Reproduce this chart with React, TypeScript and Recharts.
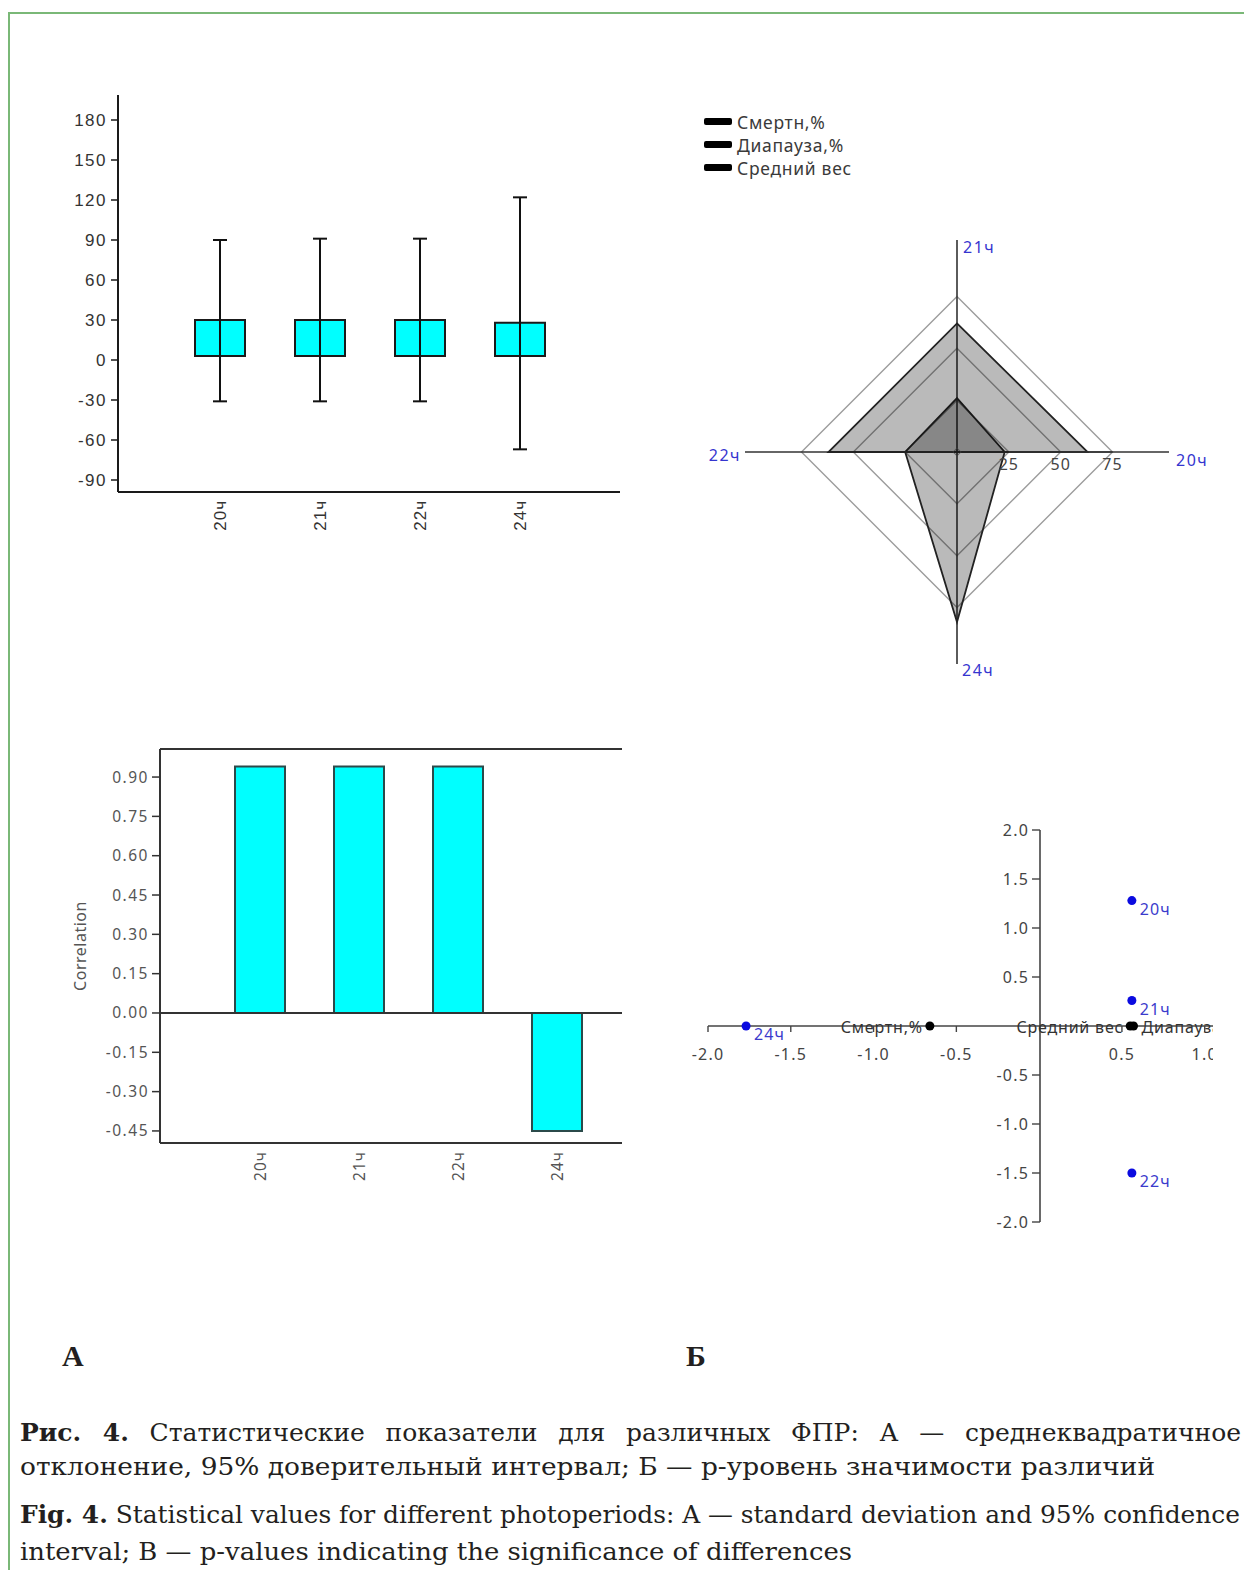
import React from 'react';
import {
  ComposedChart, BarChart, Bar, XAxis, YAxis, ReferenceLine,
  RadarChart, Radar, PolarGrid, PolarAngleAxis, PolarRadiusAxis, Legend,
  ScatterChart, Scatter,
} from 'recharts';

// ---------- data ----------
const periods = ['20ч', '21ч', '22ч', '24ч'];

// Panel A (top): box = standard deviation range, whiskers = 95% CI
const sdLow = [3, 3, 3, 3];
const sdHigh = [30, 30, 30, 28];
const ciLow = [-31, -31, -31, -67];
const ciHigh = [90, 91, 91, 122];
const sdTicks = [-90, -60, -30, 0, 30, 60, 90, 120, 150, 180];
const sdDomain = [-99, 198.75];

// Panel A (bottom): correlation
const correlation = [0.94, 0.94, 0.94, -0.45];
const corrTicks = [-0.45, -0.3, -0.15, 0, 0.15, 0.3, 0.45, 0.6, 0.75, 0.9];
const corrDomain = [-0.496, 1.007];

// Panel Б (top): radar
const radarNames = ['Смертн,%', 'Диапауза,%', 'Средний вес'];
const mortality = [23, 26, 25, 82];
const diapause = [63, 62, 62, 0];
const meanWeight = [2, 2, 2, 2];
const radarTicks = [25, 50, 75];
const radarDomain = [0, 102.25];
// clockwise order of the spokes starting at the top: 21ч, 20ч, 24ч, 22ч
const radarOrder = [1, 0, 3, 2];

// Panel Б (bottom): biplot
const pcaPeriodX = [0.56, 0.56, 0.56, -1.77];
const pcaPeriodY = [1.28, 0.26, -1.5, 0.0];
const pcaVarNames = ['Смертн,%', 'Средний вес', 'Диапауза,%'];
const pcaVarX = [-0.66, 0.55, 0.57];
const pcaVarY = [0, 0, 0];
const pcaVarLabelLeft = [true, true, false];
const pcaXTicks = [-2, -1.5, -1, -0.5, 0.5, 1];
const pcaYTicks = [-2, -1.5, -1, -0.5, 0.5, 1, 1.5, 2];
const pcaXDomain = [-2, 1.05];
const pcaYDomain = [-2, 2];

// ---------- derived tables ----------
const boxData = periods.map((p, i) => ({ p, sd: [sdLow[i], sdHigh[i]], ci: [ciLow[i], ciHigh[i]] }));
const corrData = periods.map((p, i) => ({ p, corr: correlation[i] }));
const radarData = radarOrder.map((i) => ({ p: periods[i], m: mortality[i], d: diapause[i], w: meanWeight[i] }));
const periodPts = periods.map((p, i) => ({ name: p, x: pcaPeriodX[i], y: pcaPeriodY[i] }));
const varPts = pcaVarNames.map((n, i) => ({ name: n, x: pcaVarX[i], y: pcaVarY[i], left: pcaVarLabelLeft[i] }));

// ---------- helpers ----------
const makeRotTick = (fill: string, font: string, size: number) => (props: any) => {
  const { x, y, payload } = props;
  return (
    <text x={x} y={y} transform={`rotate(-90 ${x} ${y})`} textAnchor="end" dominantBaseline="central"
      fill={fill} fontSize={size} fontFamily={font} letterSpacing={1}>
      {payload.value}
    </text>
  );
};

const Whisker = (props: any) => {
  const { x, y, width, height } = props;
  const top = Math.min(y, y + height);
  const bot = Math.max(y, y + height);
  const mid = x + width / 2;
  return (
    <g stroke="#111" strokeWidth={2}>
      <line x1={mid} y1={top} x2={mid} y2={bot} />
      <line x1={x} y1={top} x2={x + width} y2={top} />
      <line x1={x} y1={bot} x2={x + width} y2={bot} />
    </g>
  );
};

const CorrLabel = (props: any) => {
  const vb = props.viewBox || { x: 0, y: 0, width: 0, height: 0 };
  const x = vb.x - 10;
  const y = vb.y + vb.height / 2;
  return (
    <text x={x} y={y} transform={`rotate(-90 ${x} ${y})`} textAnchor="middle" dominantBaseline="central"
      fill="#555" fontSize={16} fontFamily="Noto Sans" letterSpacing={0.5}>
      Correlation
    </text>
  );
};

const AngleTick = (props: any) => {
  const { x, y, payload } = props;
  const v = payload.value;
  let tx = x + 6;
  let ty = y + 8;
  let anchor = 'start';
  if (v === '22ч') { tx = x - 3; ty = y + 3; anchor = 'end'; }
  if (v === '24ч') { tx = x + 5; ty = y + 5; }
  return (
    <text x={tx} y={ty} textAnchor={anchor} dominantBaseline="central" fill="#3535cf"
      fontSize={16} fontFamily="Noto Sans" letterSpacing={1.5}>{v}</text>
  );
};

const RadiusTick = (props: any) => {
  const { x, y, payload } = props;
  return (
    <text x={x} y={y + 12} textAnchor="middle" dominantBaseline="central" fill="#444"
      fontSize={16} fontFamily="Noto Sans" letterSpacing={1}>{payload.value}</text>
  );
};

const RadarLegend = (props: any) => {
  const items = [...(props.payload || [])].sort(
    (a: any, b: any) => radarNames.indexOf(a.value) - radarNames.indexOf(b.value));
  return (
    <div style={{ fontFamily: 'Noto Sans', fontSize: 17.5, color: '#3a3a3a', letterSpacing: 0.7 }}>
      {items.map((e: any) => (
        <div key={e.value} style={{ display: 'flex', alignItems: 'center', height: 23 }}>
          <span style={{ display: 'inline-block', width: 28, height: 7, background: '#000', marginRight: 5, borderRadius: 2 }} />
          <span>{e.value}</span>
        </div>
      ))}
    </div>
  );
};

const PeriodDot = (props: any) => {
  const { cx, cy, payload } = props;
  return (
    <g>
      <circle cx={cx} cy={cy} r={4.5} fill="#0b0be0" />
      <text x={cx + 8} y={cy + 8} dominantBaseline="central" fill="#3b3bcc" fontSize={16}
        fontFamily="Noto Sans" letterSpacing={1}>{payload.name}</text>
    </g>
  );
};

const VarDot = (props: any) => {
  const { cx, cy, payload } = props;
  const left = payload.left;
  return (
    <g>
      <circle cx={cx} cy={cy} r={4.5} fill="#000" />
      <text x={left ? cx - 7 : cx + 8} y={cy + 1} textAnchor={left ? 'end' : 'start'} dominantBaseline="central"
        fill="#333" fontSize={16} fontFamily="Noto Sans" letterSpacing={0.8}>{payload.name}</text>
    </g>
  );
};

const Empty = () => <g />;

const abs = (left: number, top: number): React.CSSProperties => ({ position: 'absolute', left, top });

const tickFontA = { fill: '#333', fontSize: 17, fontFamily: 'Liberation Sans', letterSpacing: 1.5 };
const tickFontB = { fill: '#555', fontSize: 15.5, fontFamily: 'Noto Sans', letterSpacing: 1.5 };
const tickFontC = { fill: '#444', fontSize: 16, fontFamily: 'Noto Sans', letterSpacing: 1.2 };

export default function App() {
  return (
    <div style={{ position: 'absolute', left: 0, top: 0, width: 1244, height: 1570, background: '#fff', overflow: 'hidden' }}>
      {/* border, panel letters and caption */}
      <svg width={1244} height={1570} style={{ position: 'absolute', left: 0, top: 0 }}>
        <line x1={9} y1={12} x2={9} y2={1570} stroke="#7ab877" strokeWidth={2} />
        <line x1={8} y1={13} x2={1244} y2={13} stroke="#7ab877" strokeWidth={2} />
        <text x={62} y={1366} fontFamily="Liberation Serif" fontWeight="bold" fontSize={30} fill="#231f20">А</text>
        <text x={686} y={1366} fontFamily="Liberation Serif" fontWeight="bold" fontSize={30} fill="#231f20">Б</text>
        <text x={20} y={1475} fontFamily="DejaVu Serif" fontSize={25} fill="#231f20" textLength={1135} lengthAdjust="spacingAndGlyphs">
          отклонение, 95% доверительный интервал; Б — р-уровень значимости различий
        </text>
        <text x={20} y={1523} fontFamily="DejaVu Serif" fontSize={25} fill="#231f20" textLength={1220} lengthAdjust="spacingAndGlyphs">
          <tspan fontWeight="bold">Fig. 4.</tspan><tspan> Statistical values for different photoperiods: A — standard deviation and 95% confidence</tspan>
        </text>
        <text x={20} y={1560} fontFamily="DejaVu Serif" fontSize={25} fill="#231f20" textLength={832} lengthAdjust="spacingAndGlyphs">
          interval; B — p-values indicating the significance of differences
        </text>
      </svg>
      <div style={{ position: 'absolute', left: 20, top: 1418, width: 1221, fontFamily: 'DejaVu Serif', fontSize: 25, lineHeight: '30px', textAlign: 'justify', textAlignLast: 'justify', color: '#231f20' } as React.CSSProperties}>
        <b>Рис. 4.</b> Статистические показатели для различных ФПР: А — среднеквадратичное
      </div>

      {/* Panel A top: SD boxes with 95% CI whiskers */}
      <div style={abs(40, 80)}>
        <ComposedChart width={620} height={480} data={boxData} margin={{ top: 15, right: 40, bottom: 18, left: 18 }}>
          <XAxis xAxisId="box" dataKey="p" padding={{ left: 52, right: 50 }} height={50} interval={0}
            axisLine={{ stroke: '#1a1a1a', strokeWidth: 2 }} tickLine={false}
            tick={makeRotTick('#333', 'Liberation Sans', 17)} />
          <XAxis xAxisId="ci" dataKey="p" padding={{ left: 52, right: 50 }} hide />
          <YAxis type="number" domain={sdDomain} ticks={sdTicks} width={60} interval={0}
            axisLine={{ stroke: '#1a1a1a', strokeWidth: 2 }} tickLine={{ stroke: '#1a1a1a', strokeWidth: 1.5 }}
            tickSize={7} tickMargin={4} tick={tickFontA} />
          <Bar xAxisId="box" dataKey="sd" barSize={50} fill="#00ffff" stroke="#1a1a1a" strokeWidth={2} isAnimationActive={false} />
          <Bar xAxisId="ci" dataKey="ci" barSize={14} shape={Whisker} isAnimationActive={false} />
        </ComposedChart>
      </div>

      {/* Panel A bottom: correlation */}
      <div style={abs(40, 730)}>
        <BarChart width={600} height={470} data={corrData} margin={{ top: 19, right: 18, bottom: 12, left: 50 }}>
          <XAxis dataKey="p" padding={{ left: 50, right: 16 }} height={45} interval={0}
            axisLine={{ stroke: '#333', strokeWidth: 2 }} tickLine={false}
            tick={makeRotTick('#555', 'Noto Sans', 15.5)} />
          <YAxis type="number" domain={corrDomain} ticks={corrTicks} width={70} interval={0}
            axisLine={{ stroke: '#333', strokeWidth: 2 }} tickLine={{ stroke: '#333', strokeWidth: 1.5 }}
            tickSize={8} tickMargin={3} tick={tickFontB}
            tickFormatter={(v: number) => v.toFixed(2)}
            label={{ content: CorrLabel }} />
          <ReferenceLine y={corrDomain[1]} stroke="#333" strokeWidth={2} />
          <Bar dataKey="corr" barSize={50} fill="#00ffff" stroke="#2b4a4a" strokeWidth={2} isAnimationActive={false} />
          <ReferenceLine y={0} stroke="#333" strokeWidth={2} />
        </BarChart>
      </div>

      {/* Panel Б top: radar */}
      <div style={abs(690, 100)}>
        <RadarChart width={540} height={600} data={radarData} cx={267} cy={352} outerRadius={212}
          margin={{ top: 0, right: 0, bottom: 0, left: 0 }}>
          <PolarGrid gridType="polygon" radialLines={false} stroke="#9c9c9c" strokeWidth={1.4} />
          <PolarGrid gridType="polygon" radialLines={true} polarRadius={[]} stroke="#333" strokeWidth={1.6} />
          <PolarAngleAxis dataKey="p" axisLine={false} tickLine={false} tickSize={1} tick={AngleTick} />
          <PolarRadiusAxis type="number" angle={0} domain={radarDomain} ticks={radarTicks} tickLine={false}
            axisLine={{ stroke: '#333', strokeWidth: 1.6 }} tick={RadiusTick} />
          <Radar name={radarNames[0]} dataKey="m" stroke="#222" strokeWidth={1.8} fill="#000" fillOpacity={0.27} isAnimationActive={false} />
          <Radar name={radarNames[1]} dataKey="d" stroke="#222" strokeWidth={1.8} fill="#000" fillOpacity={0.27} isAnimationActive={false} />
          <Radar name={radarNames[2]} dataKey="w" stroke="#444" strokeWidth={0.6} fill="#000" fillOpacity={0.2} isAnimationActive={false} />
          <Legend layout="vertical" align="center" verticalAlign="middle" content={RadarLegend}
            wrapperStyle={{ left: 14, top: 10, width: 220, right: 'auto', bottom: 'auto' }} />
        </RadarChart>
      </div>

      {/* Panel Б bottom: biplot — y axis */}
      <div style={abs(690, 800)}>
        <ScatterChart width={523} height={460} margin={{ top: 30, right: 0, bottom: 38, left: 300 }}>
          <XAxis type="number" dataKey="x" domain={pcaXDomain} hide />
          <YAxis type="number" dataKey="y" domain={pcaYDomain} ticks={pcaYTicks} width={50} interval={0}
            axisLine={{ stroke: '#444', strokeWidth: 1.6 }} tickLine={{ stroke: '#444', strokeWidth: 1.4 }}
            tickSize={8} tickMargin={3} tick={tickFontC} tickFormatter={(v: number) => v.toFixed(1)} />
          <Scatter data={periodPts} shape={Empty} isAnimationActive={false} />
        </ScatterChart>
      </div>
      {/* x axis at y = 0 */}
      <div style={abs(690, 800)}>
        <ScatterChart width={523} height={460} margin={{ top: 30, right: 0, bottom: 204, left: 18 }}>
          <XAxis type="number" dataKey="x" domain={pcaXDomain} ticks={pcaXTicks} height={30} interval={0}
            axisLine={{ stroke: '#444', strokeWidth: 1.6 }} tickLine={{ stroke: '#444', strokeWidth: 1.4 }}
            tickSize={6} tickMargin={17} tick={tickFontC} tickFormatter={(v: number) => v.toFixed(1)} />
          <YAxis type="number" dataKey="y" domain={pcaYDomain} hide />
          <Scatter data={periodPts} shape={Empty} isAnimationActive={false} />
        </ScatterChart>
      </div>
      {/* points */}
      <div style={abs(690, 800)}>
        <ScatterChart width={523} height={460} margin={{ top: 30, right: 0, bottom: 38, left: 18 }}>
          <XAxis type="number" dataKey="x" domain={pcaXDomain} hide />
          <YAxis type="number" dataKey="y" domain={pcaYDomain} hide />
          <Scatter data={varPts} shape={VarDot} isAnimationActive={false} />
          <Scatter data={periodPts} shape={PeriodDot} isAnimationActive={false} />
        </ScatterChart>
      </div>
      <div style={{ position: 'absolute', left: 1214, top: 980, width: 30, height: 100, background: '#fff' }} />
    </div>
  );
}
